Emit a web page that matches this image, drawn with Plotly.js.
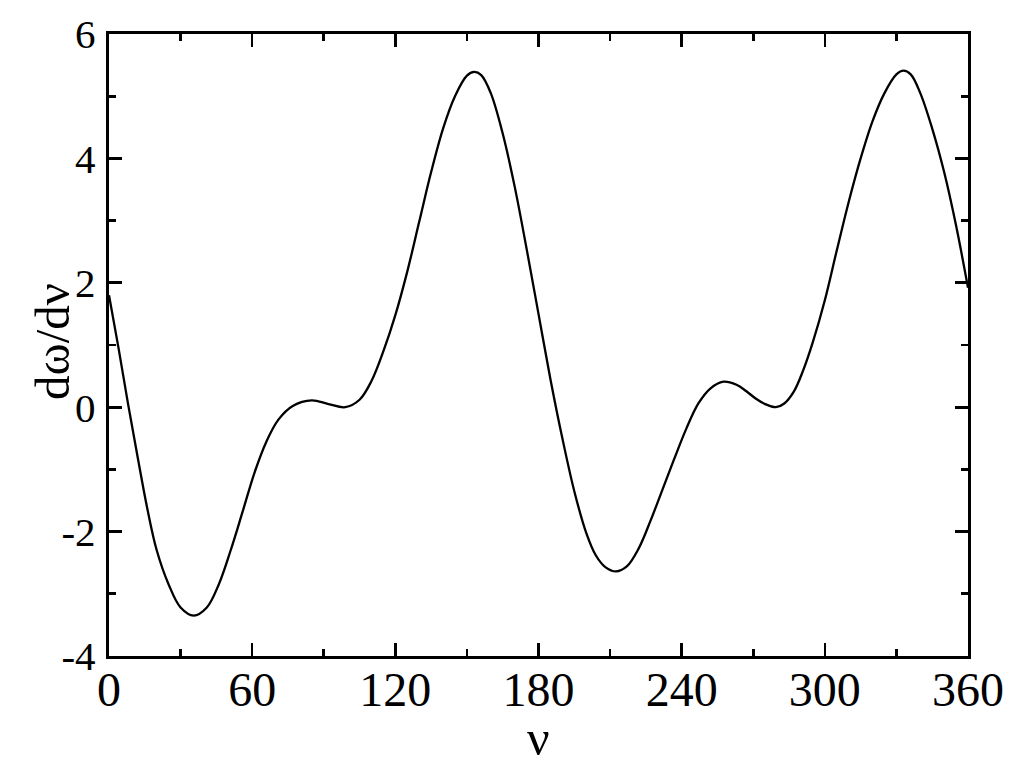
<!DOCTYPE html>
<html>
<head>
<meta charset="utf-8">
<script src="https://cdn.plot.ly/plotly-3.0.1.min.js"></script>
<style>html,body{margin:0;padding:0;background:#fff;}#chart{width:1024px;height:765px;}</style>
</head>
<body>
<div id="chart"></div>
<script>
// Angle nu (degrees)
const nu = [0, 4, 8, 12, 16, 20, 25, 30, 35.5, 41, 46, 51, 56, 61, 66, 71, 77, 85, 92, 99, 105, 110, 115, 120, 125, 130, 135, 140, 145, 150, 153, 156, 160, 165, 170, 175, 180, 185, 190, 195, 200, 204, 208, 212.5, 217, 222, 227, 232, 237, 242, 247, 252, 257.5, 263, 267, 271, 275, 279.5, 283, 287, 291, 295, 300, 305, 310, 315, 320, 325, 330, 333, 336, 340, 345, 350, 355, 360];
// d(omega)/d(nu)
const dwdv = [1.8, 0.95, 0.05, -0.8, -1.62, -2.3, -2.85, -3.22, -3.35, -3.22, -2.85, -2.3, -1.68, -1.05, -0.55, -0.2, 0.02, 0.11, 0.05, 0.0, 0.12, 0.42, 0.9, 1.48, 2.18, 2.98, 3.78, 4.48, 5.0, 5.33, 5.39, 5.34, 5.05, 4.4, 3.55, 2.55, 1.5, 0.45, -0.5, -1.35, -2.02, -2.38, -2.57, -2.64, -2.56, -2.27, -1.82, -1.32, -0.82, -0.34, 0.06, 0.3, 0.41, 0.36, 0.26, 0.14, 0.05, 0.0, 0.06, 0.25, 0.6, 1.05, 1.72, 2.52, 3.3, 4.0, 4.6, 5.05, 5.35, 5.41, 5.35, 5.05, 4.48, 3.78, 2.92, 1.92];

const xTickVals = [0, 60, 120, 180, 240, 300, 360];
const xTickText = ["0", "60", "120", "180", "240", "300", "360"];
const yTickVals = [-4, -2, 0, 2, 4, 6];
const yTickText = ["-4", "-2", "0", "2", "4", "6"];
const xTitle = 'ν';
const yTitle = 'dω/dν';

const FONT = '"Liberation Serif", "Times New Roman", Times, serif';

const trace = {
  x: nu, y: dwdv, type: 'scatter', mode: 'lines',
  line: {color: '#000', width: 2.3, shape: 'spline', smoothing: 1},
  hoverinfo: 'skip'
};

const layout = {
  width: 1024, height: 765,
  margin: {l: 109, r: 56, t: 34, b: 109},
  paper_bgcolor: '#fff', plot_bgcolor: '#fff',
  showlegend: false,
  font: {family: FONT, color: '#000'},
  xaxis: {
    range: [0, 360], tickmode: 'array', tickvals: xTickVals, ticktext: xTickText,
    ticks: 'inside', ticklen: 13, tickwidth: 2.6, tickcolor: '#000',
    minor: {dtick: 30, tick0: 0, ticks: 'inside', ticklen: 7, tickwidth: 2.6, tickcolor: '#000', showgrid: false},
    showline: true, linewidth: 3.2, linecolor: '#000', mirror: 'ticks',
    showgrid: false, zeroline: false,
    tickfont: {family: FONT, size: 48, color: '#000'},
    ticklabelstandoff: -11
  },
  yaxis: {
    range: [-4, 6], tickmode: 'array', tickvals: yTickVals, ticktext: yTickText,
    ticks: 'inside', ticklen: 13, tickwidth: 2.6, tickcolor: '#000',
    minor: {dtick: 1, tick0: 0, ticks: 'inside', ticklen: 7, tickwidth: 2.6, tickcolor: '#000', showgrid: false},
    showline: true, linewidth: 3.2, linecolor: '#000', mirror: 'ticks',
    showgrid: false, zeroline: false,
    tickfont: {family: FONT, size: 41, color: '#000'},
    ticklabelstandoff: 2
  },
  annotations: [
    {text: xTitle, xref: 'paper', yref: 'paper', x: 0.5, y: 0, xanchor: 'center', yanchor: 'middle',
     yshift: -82, showarrow: false, font: {family: FONT, size: 50, color: '#000'}},
    {text: yTitle, xref: 'paper', yref: 'paper', x: 0, y: 0.5, xanchor: 'center', yanchor: 'middle',
     xshift: -57, yshift: 3, textangle: -90, showarrow: false, font: {family: FONT, size: 49, color: '#000'}}
  ]
};

Plotly.newPlot('chart', [trace], layout, {staticPlot: true, displayModeBar: false});
</script>
</body>
</html>
